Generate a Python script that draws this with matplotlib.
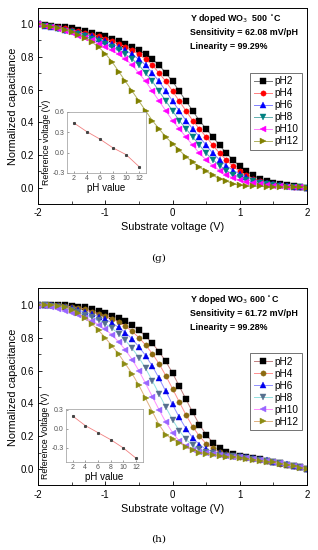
import numpy as np
import matplotlib
matplotlib.use("Agg")
import matplotlib.pyplot as plt
from matplotlib.ticker import MultipleLocator

plt.rcParams['font.family'] = ['Liberation Sans', 'DejaVu Sans']

# substrate voltage grid (V)
volts = np.linspace(-2.0, 2.0, 41)
ph_labels = ['pH2', 'pH4', 'pH6', 'pH8', 'pH10', 'pH12']
ph_values = [2, 4, 6, 8, 10, 12]

# --- panel (g): Y doped WO3 500 C ---
g_ph2 = [1.00, 0.995, 0.99, 0.985, 0.98, 0.975, 0.965, 0.955, 0.945, 0.935, 0.925, 0.91, 0.895, 0.88,
         0.86, 0.84, 0.815, 0.785, 0.75, 0.70, 0.65, 0.59, 0.53, 0.47, 0.41, 0.36, 0.31, 0.26, 0.21,
         0.17, 0.13, 0.10, 0.075, 0.055, 0.04, 0.03, 0.02, 0.015, 0.01, 0.005, 0.0]
g_ph4 = [1.00, 0.995, 0.99, 0.98, 0.975, 0.965, 0.955, 0.945, 0.935, 0.925, 0.91, 0.895, 0.88, 0.86,
         0.84, 0.815, 0.785, 0.75, 0.70, 0.65, 0.59, 0.53, 0.47, 0.41, 0.36, 0.31, 0.26, 0.21, 0.17,
         0.13, 0.10, 0.075, 0.055, 0.04, 0.03, 0.02, 0.015, 0.01, 0.005, 0.003, 0.0]
g_ph6 = [1.00, 0.99, 0.985, 0.975, 0.965, 0.955, 0.945, 0.935, 0.925, 0.91, 0.895, 0.88, 0.86, 0.84,
         0.815, 0.785, 0.75, 0.70, 0.65, 0.59, 0.53, 0.47, 0.41, 0.36, 0.31, 0.26, 0.21, 0.17, 0.135,
         0.105, 0.085, 0.065, 0.05, 0.037, 0.027, 0.02, 0.014, 0.01, 0.006, 0.003, 0.0]
g_ph8 = [1.00, 0.99, 0.98, 0.97, 0.96, 0.95, 0.94, 0.925, 0.91, 0.895, 0.88, 0.86, 0.84, 0.815,
         0.785, 0.75, 0.70, 0.65, 0.59, 0.53, 0.47, 0.41, 0.36, 0.31, 0.26, 0.21, 0.17, 0.135, 0.105,
         0.08, 0.063, 0.05, 0.038, 0.028, 0.02, 0.015, 0.01, 0.007, 0.005, 0.002, 0.0]
g_ph10 = [1.00, 0.99, 0.98, 0.97, 0.955, 0.945, 0.93, 0.915, 0.90, 0.88, 0.86, 0.84, 0.815, 0.785,
          0.75, 0.70, 0.65, 0.59, 0.53, 0.47, 0.41, 0.36, 0.31, 0.26, 0.21, 0.17, 0.135, 0.105, 0.08,
          0.06, 0.045, 0.035, 0.027, 0.02, 0.015, 0.011, 0.008, 0.006, 0.004, 0.002, 0.0]
g_ph12 = [1.00, 0.99, 0.985, 0.975, 0.965, 0.95, 0.935, 0.915, 0.89, 0.86, 0.82, 0.77, 0.71, 0.65,
          0.59, 0.53, 0.47, 0.41, 0.36, 0.31, 0.27, 0.23, 0.19, 0.155, 0.125, 0.10, 0.075, 0.055,
          0.04, 0.025, 0.015, 0.01, 0.01, 0.008, 0.007, 0.006, 0.005, 0.004, 0.003, 0.002, 0.0]
g_ref_voltage = [0.44, 0.31, 0.20, 0.07, -0.03, -0.21]

# --- panel (h): Y doped WO3 600 C ---
h_ph2 = [1.00, 1.00, 1.00, 1.00, 1.00, 0.995, 0.99, 0.985, 0.975, 0.96, 0.95, 0.935, 0.92, 0.90,
         0.875, 0.845, 0.81, 0.765, 0.715, 0.655, 0.585, 0.505, 0.425, 0.345, 0.27, 0.21, 0.16,
         0.13, 0.105, 0.09, 0.08, 0.072, 0.065, 0.058, 0.05, 0.043, 0.035, 0.027, 0.018, 0.01, 0.0]
h_ph4 = [1.00, 1.00, 1.00, 0.999, 0.994, 0.989, 0.983, 0.972, 0.957, 0.947, 0.932, 0.916, 0.895,
         0.869, 0.838, 0.801, 0.755, 0.703, 0.641, 0.569, 0.489, 0.409, 0.33, 0.258, 0.20, 0.154,
         0.125, 0.102, 0.09, 0.082, 0.075, 0.068, 0.062, 0.055, 0.048, 0.041, 0.033, 0.025, 0.017,
         0.009, 0.0]
h_ph6 = [1.00, 1.00, 0.999, 0.995, 0.99, 0.981, 0.969, 0.954, 0.944, 0.929, 0.912, 0.89, 0.863,
         0.831, 0.792, 0.745, 0.691, 0.627, 0.553, 0.473, 0.393, 0.315, 0.246, 0.19, 0.148, 0.12,
         0.105, 0.095, 0.088, 0.082, 0.077, 0.072, 0.066, 0.06, 0.053, 0.045, 0.037, 0.028, 0.019,
         0.01, 0.0]
h_ph8 = [1.00, 0.999, 0.996, 0.987, 0.979, 0.966, 0.954, 0.941, 0.926, 0.908, 0.885, 0.857, 0.824,
         0.783, 0.735, 0.679, 0.613, 0.537, 0.457, 0.377, 0.30, 0.234, 0.18, 0.145, 0.12, 0.105,
         0.095, 0.088, 0.082, 0.077, 0.072, 0.067, 0.062, 0.056, 0.05, 0.043, 0.035, 0.027, 0.018,
         0.009, 0.0]
h_ph10 = [0.996, 0.991, 0.986, 0.977, 0.963, 0.952, 0.938, 0.923, 0.904, 0.88, 0.851, 0.817, 0.774,
          0.725, 0.667, 0.599, 0.521, 0.441, 0.361, 0.285, 0.222, 0.17, 0.14, 0.118, 0.105, 0.097,
          0.09, 0.085, 0.08, 0.075, 0.07, 0.065, 0.06, 0.054, 0.048, 0.041, 0.034, 0.026, 0.018,
          0.009, 0.0]
h_ph12 = [1.00, 1.00, 1.00, 0.995, 0.985, 0.97, 0.95, 0.92, 0.885, 0.845, 0.80, 0.75, 0.70, 0.64,
          0.58, 0.51, 0.43, 0.35, 0.27, 0.21, 0.18, 0.16, 0.135, 0.115, 0.10, 0.09, 0.085, 0.08,
          0.075, 0.07, 0.065, 0.06, 0.055, 0.05, 0.045, 0.04, 0.033, 0.025, 0.017, 0.008, 0.0]
h_ref_voltage = [0.20, 0.05, -0.06, -0.17, -0.30, -0.46]

markers = ['s', 'o', '^', 'v', '<', '>']
g_colors = ['#000000', '#ff0000', '#0000ff', '#008080', '#ff00ff', '#808000']
g_lines = ['#777777', '#ff8080', '#8080ff', '#60b0b0', '#ff80ff', '#b0b060']
h_colors = ['#000000', '#8b6a10', '#0000ee', '#56708e', '#9966ff', '#8c8c14']
h_lines = ['#c08080', '#ff9090', '#9090ff', '#90e0e0', '#ff90ff', '#e0b080']


def draw_panel(fig, rect, inset_rect, curves, colors, lines, title_lines,
               ref_v, inset_ylim, inset_yticks, inset_xlim, inset_ylabel, caption, cap_y):
    ax = fig.add_axes(rect)
    for vals, lab, m, c, lc in zip(curves, ph_labels, markers, colors, lines):
        ax.plot(volts, vals, color=lc, lw=0.7, marker=m, ms=3.8, mfc=c, mec=c,
                mew=0.3, label=lab)
    ax.set_xlim(-2, 2)
    ax.set_ylim(-0.1, 1.1)
    ax.xaxis.set_major_locator(MultipleLocator(1))
    ax.xaxis.set_minor_locator(MultipleLocator(0.5))
    ax.yaxis.set_major_locator(MultipleLocator(0.2))
    ax.yaxis.set_minor_locator(MultipleLocator(0.1))
    ax.set_yticks([0.0, 0.2, 0.4, 0.6, 0.8, 1.0])
    ax.tick_params(which='both', direction='in', labelsize=7, pad=3)
    ax.tick_params(which='major', length=3, width=0.6)
    ax.tick_params(which='minor', length=2, width=0.5)
    ax.xaxis.set_major_formatter(plt.FuncFormatter(lambda v, p: f"{v:.0f}"))
    ax.yaxis.set_major_formatter(plt.FuncFormatter(lambda v, p: f"{v:.1f}"))
    for s in ax.spines.values():
        s.set_linewidth(0.7)
    ax.set_xlabel('Substrate voltage (V)', fontsize=7.8, labelpad=3)
    ax.set_ylabel('Normalized capacitance', fontsize=7.8, labelpad=2)

    for i, t in enumerate(title_lines):
        ax.text(0.565, 0.945 - i * 0.072, t, transform=ax.transAxes, fontsize=6.4,
                fontweight='bold', ha='left', va='center')

    leg = ax.legend(loc='upper right', bbox_to_anchor=(0.99, 0.68), fontsize=7.2,
                    frameon=True, fancybox=False, edgecolor='#333333', handlelength=1.8,
                    handletextpad=0.3, labelspacing=0.2, borderpad=0.35, borderaxespad=0.2)
    leg.get_frame().set_linewidth(0.6)

    ins = fig.add_axes(inset_rect)
    ins.plot(ph_values, ref_v, color='#f08080', lw=0.6, marker='s', ms=1.2,
             mfc='#444444', mec='#444444')
    ins.set_xlim(*inset_xlim)
    ins.set_ylim(*inset_ylim)
    ins.set_xticks(ph_values)
    ins.set_yticks(inset_yticks)
    ins.yaxis.set_major_formatter(plt.FuncFormatter(lambda v, p: f"{v:.1f}"))
    ins.tick_params(which='both', direction='in', labelsize=5, pad=1.5, length=1.5,
                    width=0.4, colors='#555555')
    for s in ins.spines.values():
        s.set_linewidth(0.5)
        s.set_color('#999999')
    ins.set_xlabel('pH value', fontsize=7, labelpad=1)
    ins.set_ylabel(inset_ylabel, fontsize=6.3, labelpad=1)

    fig.text(0.5, cap_y, caption, ha='center', va='center', fontsize=7.5,
             family='DejaVu Serif')


fig = plt.figure(figsize=(3.18, 5.5), dpi=100)

draw_panel(fig, [0.1195, 0.629, 0.846, 0.357], [0.2107, 0.6855, 0.248, 0.111],
           [g_ph2, g_ph4, g_ph6, g_ph8, g_ph10, g_ph12], g_colors, g_lines,
           ['Y doped WO$_3$  500 $^{\\circ}$C', 'Sensitivity = 62.08 mV/pH', 'Linearity = 99.29%'],
           g_ref_voltage, (-0.3, 0.6), [-0.3, 0.0, 0.3, 0.6], (1.0, 13.0),
           'Reference voltage (V)', '(g)', 1 - 258 / 550)

draw_panel(fig, [0.1195, 0.1175, 0.846, 0.358], [0.2075, 0.16, 0.242, 0.0964],
           [h_ph2, h_ph4, h_ph6, h_ph8, h_ph10, h_ph12], h_colors, h_lines,
           ['Y doped WO$_3$ 600 $^{\\circ}$C', 'Sensitivity = 61.72 mV/pH', 'Linearity = 99.28%'],
           h_ref_voltage, (-0.52, 0.31), [-0.3, 0.0, 0.3], (0.95, 13.1),
           'Reference Voltage (V)', '(h)', 1 - 539 / 550)

fig.savefig('out.png', dpi=100)
